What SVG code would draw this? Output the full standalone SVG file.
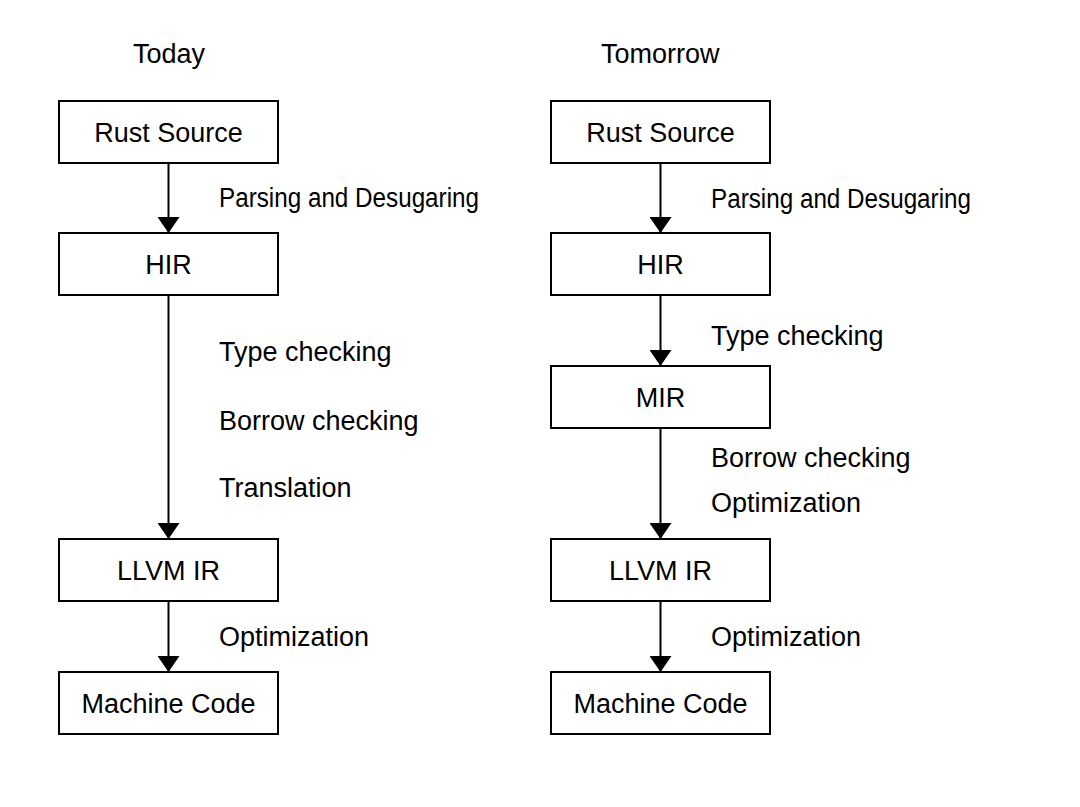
<svg xmlns="http://www.w3.org/2000/svg" width="1080" height="807" viewBox="0 0 1080 807">
<defs>
<style>
text{font-family:"Liberation Sans",Arial,Helvetica,sans-serif;font-size:27px;fill:#000}
.c{text-anchor:middle}
.box{fill:#fff;stroke:#000;stroke-width:2}
.edge{stroke:#000;stroke-width:2;fill:none;marker-end:url(#ah)}
</style>
<marker id="ah" viewBox="0 0 16 22" refX="16" refY="11" markerWidth="16" markerHeight="22" markerUnits="userSpaceOnUse" orient="auto">
<path d="M0,0 L16,11 L0,22 Z" fill="#000"/>
</marker>
</defs>
<rect width="1080" height="807" fill="#fff"/>
<text x="133" y="63">Today</text>
<text x="601" y="63">Tomorrow</text>
<g id="connectors">
<line class="edge" x1="168.5" y1="163" x2="168.5" y2="233"/>
<line class="edge" x1="168.5" y1="295" x2="168.5" y2="539"/>
<line class="edge" x1="168.5" y1="601" x2="168.5" y2="672"/>
<line class="edge" x1="660.5" y1="163" x2="660.5" y2="233"/>
<line class="edge" x1="660.5" y1="295" x2="660.5" y2="366"/>
<line class="edge" x1="660.5" y1="428" x2="660.5" y2="539"/>
<line class="edge" x1="660.5" y1="601" x2="660.5" y2="672"/>
</g>
<g id="labels">
<text x="219" y="207" textLength="260" lengthAdjust="spacingAndGlyphs">Parsing and Desugaring</text>
<text x="219" y="361">Type checking</text>
<text x="219" y="430">Borrow checking</text>
<text x="219" y="497">Translation</text>
<text x="219" y="646">Optimization</text>
<text x="711" y="208" textLength="260" lengthAdjust="spacingAndGlyphs">Parsing and Desugaring</text>
<text x="711" y="345">Type checking</text>
<text x="711" y="467">Borrow checking</text>
<text x="711" y="512">Optimization</text>
<text x="711" y="646">Optimization</text>
</g>
<g id="today-rust"><rect class="box" x="59" y="101" width="219" height="62"/><text class="c" x="168.5" y="142">Rust Source</text></g>
<g id="today-hir"><rect class="box" x="59" y="233" width="219" height="62"/><text class="c" x="168.5" y="274">HIR</text></g>
<g id="today-llvm"><rect class="box" x="59" y="539" width="219" height="62"/><text class="c" x="168.5" y="580">LLVM IR</text></g>
<g id="today-mc"><rect class="box" x="59" y="672" width="219" height="62"/><text class="c" x="168.5" y="713">Machine Code</text></g>
<g id="tomorrow-rust"><rect class="box" x="551" y="101" width="219" height="62"/><text class="c" x="660.5" y="142">Rust Source</text></g>
<g id="tomorrow-hir"><rect class="box" x="551" y="233" width="219" height="62"/><text class="c" x="660.5" y="274">HIR</text></g>
<g id="tomorrow-mir"><rect class="box" x="551" y="366" width="219" height="62"/><text class="c" x="660.5" y="407">MIR</text></g>
<g id="tomorrow-llvm"><rect class="box" x="551" y="539" width="219" height="62"/><text class="c" x="660.5" y="580">LLVM IR</text></g>
<g id="tomorrow-mc"><rect class="box" x="551" y="672" width="219" height="62"/><text class="c" x="660.5" y="713">Machine Code</text></g>
</svg>
